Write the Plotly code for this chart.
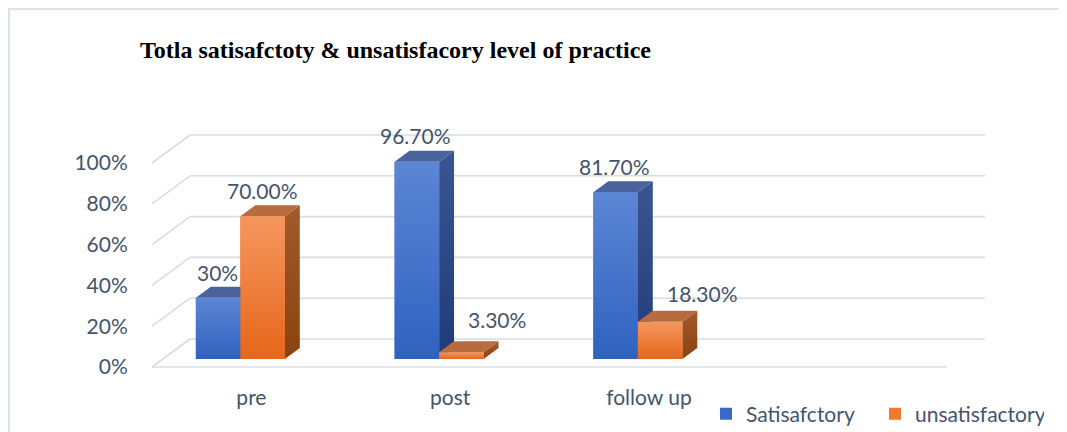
import plotly.graph_objects as go

# ---------------- data ----------------
categories = ["pre", "post", "follow up"]
series_names = ["Satisafctory", "unsatisfactory"]
satisfactory = [30.0, 96.7, 81.7]
unsatisfactory = [70.0, 3.3, 18.3]
satisfactory_labels = ["30%", "96.70%", "81.70%"]
unsatisfactory_labels = ["70.00%", "3.30%", "18.30%"]
y_ticks = [0, 20, 40, 60, 80, 100]
y_tick_labels = ["0%", "20%", "40%", "60%", "80%", "100%"]
title_text = "Totla satisafctoty & unsatisfacory level of practice"

# ---------------- geometry / style ----------------
OFF = 8                      # page body margin of the html page
W, H = 1067 - OFF, 432 - OFF # figure size so that the page fits the window
PL, PR, PT, PB = 146, 990, 130, 372          # plot area in window pixels
X0_PX, XU = 251.4, 198.75                    # category 0 centre (front plane), px per category
Y0_PX, YU = 367.0, 2.04                      # 0% on front plane, px per percent
x_range = [(PL - X0_PX) / XU, (PR - X0_PX) / XU]
y_range = [(Y0_PX - PB) / YU, (Y0_PX - PT) / YU]

DX = 38 / XU        # depth of the box (x)
DY = 28 / YU        # depth of the box (y)
F1, F2 = 8 / 28, 19 / 28   # front / back depth fraction of the columns
BW = 44.5 / XU      # column width
GROUP_LEFT = -0.334 # left edge of the pair (front-plane equivalent)

FONT = "Lato"
FS = 21
TXT = "#44546A"
GRID = "#D9DCE3"

styles = [
    dict(front=("#2F62BF", "#5C86D5"), side=("#1F3B78", "#3B5592"), top="#4A639C",
         legend="#3A6AC8"),
    dict(front=("#E6661A", "#F5975F"), side=("#8A4210", "#A35A2C"), top="#B96B40",
         legend="#F07A2C"),
]
label_shift = [  # (dx px, dy px) of the data labels relative to the column's front top centre
    [(-1, 25), (-1, 26), (-1.5, 26)],
    [(0, 26), (36, 33), (42.5, 28)],
]

values = [satisfactory, unsatisfactory]
labels = [satisfactory_labels, unsatisfactory_labels]
n_slots = 4  # the category axis has a fourth, empty slot

fig = go.Figure()

# real bar traces (front faces, also provide the legend)
for s in range(2):
    fig.add_trace(go.Bar(
        x=list(range(len(categories))), y=values[s], name=series_names[s],
        base=F1 * DY, width=BW, offset=GROUP_LEFT + s * BW + F1 * DX,
        marker=dict(color=styles[s]["legend"], line=dict(width=0)),
        hoverinfo="skip",
    ))

# 3-D faces, drawn back-to-front per category
def poly(xs, ys, **kw):
    fig.add_trace(go.Scatter(x=xs + [xs[0]], y=ys + [ys[0]], mode="lines", fill="toself",
                             line=dict(width=0), showlegend=False, hoverinfo="skip", **kw))

ddx, ddy = (F2 - F1) * DX, (F2 - F1) * DY
for i in range(len(categories)):
    for s in range(2):
        v = values[s][i]
        st = styles[s]
        xl = i + GROUP_LEFT + s * BW + F1 * DX
        xr = xl + BW
        b = F1 * DY
        t = b + v
        # right side face
        poly([xr, xr, xr + ddx, xr + ddx], [b, t, t + ddy, b + ddy],
             fillgradient=dict(type="vertical",
                               colorscale=[[0, st["side"][0]], [1, st["side"][1]]]))
        # top face
        poly([xl, xr, xr + ddx, xl + ddx], [t, t, t + ddy, t + ddy], fillcolor=st["top"])
        # front face with gradient
        poly([xl, xr, xr, xl], [b, b, t, t],
             fillgradient=dict(type="vertical",
                               colorscale=[[0, st["front"][0]], [1, st["front"][1]]]))

# walls / gridlines
shapes = []
xl_front, xr_front = -0.5, n_slots - 0.5
for v in y_ticks:
    shapes.append(dict(type="line", xref="x", yref="y", layer="below",
                       x0=xl_front + DX, y0=v + DY, x1=xr_front + DX, y1=v + DY,
                       line=dict(color=GRID, width=1.6)))
    shapes.append(dict(type="line", xref="x", yref="y", layer="below",
                       x0=xl_front, y0=v, x1=xl_front + DX, y1=v + DY,
                       line=dict(color=GRID, width=1.6)))
shapes.append(dict(type="line", xref="x", yref="y", layer="below",
                   x0=xl_front, y0=0, x1=xr_front, y1=0,
                   line=dict(color=GRID, width=1.6)))
# outer frame
shapes.append(dict(type="rect", xref="paper", yref="paper",
                   x0=(9 - PL) / (PR - PL), x1=(1080 - PL) / (PR - PL),
                   y0=(PB - 445) / (PB - PT), y1=(PB - 9) / (PB - PT),
                   line=dict(color="#DDE1EA", width=2), fillcolor="rgba(0,0,0,0)"))

# data labels
annotations = []
for s in range(2):
    for i in range(len(categories)):
        xc = i + GROUP_LEFT + s * BW + F1 * DX + BW / 2
        dxp, dyp = label_shift[s][i]
        annotations.append(dict(x=xc, y=F1 * DY + values[s][i], xref="x", yref="y",
                                text=labels[s][i], showarrow=False, xshift=dxp, yshift=dyp,
                                yanchor="middle", xanchor="center",
                                font=dict(family=FONT, size=FS, color=TXT)))

fig.update_layout(
    width=W, height=H, autosize=False,
    margin=dict(l=PL - OFF, r=1067 - PR, t=PT - OFF, b=432 - PB, pad=0, autoexpand=False),
    paper_bgcolor="white", plot_bgcolor="rgba(0,0,0,0)",
    barmode="overlay",
    title=dict(text=title_text, x=(140 - OFF) / W, xanchor="left", xref="container",
               y=1 - (50 - OFF) / H, yanchor="middle", yref="container",
               pad=dict(l=0, r=0, t=0, b=0),
               font=dict(family="Liberation Serif", size=24, color="black", weight="bold")),
    xaxis=dict(range=x_range, tickvals=list(range(len(categories))), ticktext=categories,
               showgrid=False, zeroline=False, showline=False, automargin=False,
               ticks="outside", ticklen=7, tickcolor="rgba(0,0,0,0)",
               tickfont=dict(family=FONT, size=FS, color=TXT), fixedrange=True),
    yaxis=dict(range=y_range, tickvals=y_ticks, ticktext=y_tick_labels,
               showgrid=False, zeroline=False, showline=False, automargin=False,
               ticks="outside", ticklen=13, tickcolor="rgba(0,0,0,0)",
               tickfont=dict(family=FONT, size=FS, color=TXT), fixedrange=True),
    legend=dict(orientation="h", x=(706 - PL) / (PR - PL), xanchor="left",
                y=(PB - 414) / (PB - PT), yanchor="middle",
                entrywidth=124, entrywidthmode="pixels",
                font=dict(family=FONT, size=FS, color=TXT), bgcolor="rgba(0,0,0,0)"),
    shapes=shapes, annotations=annotations, showlegend=True,
)

fig.write_html("out.html")
